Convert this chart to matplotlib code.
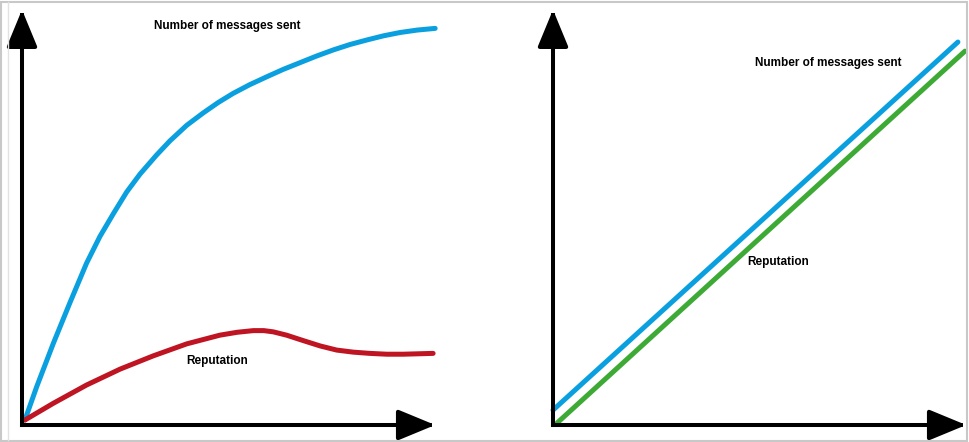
import numpy as np
import matplotlib
matplotlib.use("Agg")
import matplotlib.pyplot as plt
from matplotlib.patches import FancyArrowPatch, Rectangle
from matplotlib.lines import Line2D

# left panel: messages rise and flatten, reputation rises then sags
left_x_msgs = [0.7, 3.55, 7.56, 11.6, 15.6, 18.8, 22.1, 25.3, 28.5, 32.5, 35.7, 39.8, 43.8,
               47.4, 51.0, 55.0, 59.1, 63.1, 67.1, 71.1, 75.2, 79.2, 83.3, 87.3, 91.3, 95.5, 99.8]
left_y_msgs = [1.2, 9.25, 19.7, 29.6, 39.1, 45.5, 51.1, 56.3, 60.6, 65.2, 68.6, 72.4, 75.4,
               77.9, 80.1, 82.2, 84.1, 85.9, 87.5, 89.1, 90.6, 91.9, 93.0, 94.0, 94.8, 95.4, 95.8]
left_x_rep = [0.7, 7.56, 15.6, 23.7, 31.7, 39.8, 47.8, 52.0, 55.9, 58.4, 60.7, 63.9, 67.9,
              72.0, 76.0, 80.0, 84.0, 88.1, 92.1, 95.7, 99.3]
left_y_rep = [1.2, 5.24, 9.66, 13.5, 16.7, 19.6, 21.7, 22.4, 22.8, 22.8, 22.5, 21.7, 20.4,
              19.1, 18.1, 17.6, 17.3, 17.1, 17.1, 17.2, 17.3]

# right panel: both grow together
right_x_msgs = [0.0, 97.8]
right_y_msgs = [3.6, 92.5]
right_x_rep = [1.0, 99.5]
right_y_rep = [0.5, 90.3]

labels = ["Number of messages sent", "Reputation"]

BLUE = "#0aa0e0"
RED = "#bf1422"
GREEN = "#3daa35"

W, H = 970, 442
fig = plt.figure(figsize=(W / 100, H / 100), dpi=100)

PX_PER_UNIT = 4.14


def make_panel(ox, oy):
    # ox, oy: pixel position of the axis origin (top-left pixel coords)
    left = ox / W
    bottom = (H - oy) / H
    ax = fig.add_axes([left, bottom, 102 * PX_PER_UNIT / W, 102 * PX_PER_UNIT / H])
    ax.set_xlim(0, 102)
    ax.set_ylim(0, 102)
    ax.axis("off")
    ax.patch.set_visible(False)
    return ax


def draw_axes_arrows(ax):
    kw = dict(arrowstyle="-|>,head_length=23,head_width=9.5", mutation_scale=1,
              color="black", lw=2.9, shrinkA=0, shrinkB=0, clip_on=False,
              zorder=3, transform=ax.transData, capstyle="projecting")
    ax.add_patch(FancyArrowPatch((0, 0), (0, 100.3), **kw))
    ax.add_patch(FancyArrowPatch((0, 0), (99.8, 0), **kw))


ax1 = make_panel(22, 425)
ax1.plot(left_x_msgs, left_y_msgs, color=BLUE, lw=3.6, solid_capstyle="round",
         solid_joinstyle="round", clip_on=False)
ax1.plot(left_x_rep, left_y_rep, color=RED, lw=3.6, solid_capstyle="round",
         solid_joinstyle="round", clip_on=False)
draw_axes_arrows(ax1)
ax1.text(49.5, 96.3, labels[0], ha="center", va="center", fontsize=8.5,
         fontweight="bold", family="Liberation Sans")
ax1.text(47.2, 15.5, labels[1], ha="center", va="center", fontsize=8.5,
         fontweight="bold", family="Liberation Sans")

ax2 = make_panel(553, 425)
ax2.plot(right_x_msgs, right_y_msgs, color=BLUE, lw=3.6, solid_capstyle="round", clip_on=False)
ax2.plot(right_x_rep, right_y_rep, color=GREEN, lw=3.6, solid_capstyle="round", clip_on=False)
draw_axes_arrows(ax2)
ax2.text(66.6, 87.4, labels[0], ha="center", va="center", fontsize=8.5,
         fontweight="bold", family="Liberation Sans")
ax2.text(54.3, 39.4, labels[1], ha="center", va="center", fontsize=8.5,
         fontweight="bold", family="Liberation Sans")

# light grey frame round the picture
fig.patches.append(Rectangle((0.5 / W, 1.5 / H), (W - 3) / W, (H - 3) / H,
                             transform=fig.transFigure, fill=False,
                             edgecolor="#c8c8c8", lw=1.5))
fig.lines.append(Line2D([8 / W, 8 / W], [2 / H, 1 - 2 / H], transform=fig.transFigure,
                        color="#e2e2e2", lw=1.0))

fig.savefig("out.png", dpi=100)
